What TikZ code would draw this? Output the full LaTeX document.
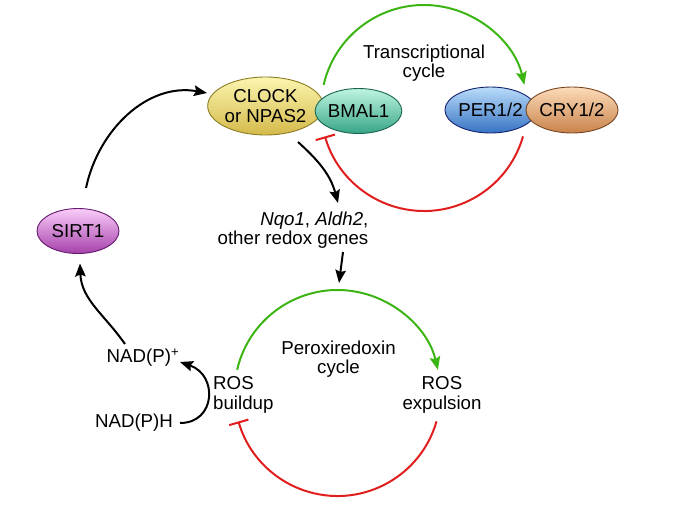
\documentclass[tikz,border=0pt]{standalone}
\usepackage{fontspec}
\setmainfont{Liberation Sans}
\usetikzlibrary{shapes.geometric,arrows.meta}
\definecolor{grn}{RGB}{60,180,20}
\definecolor{rd}{RGB}{225,30,30}
\tikzset{
  every node/.style={font=\fontsize{18.7}{19.5}\selectfont, inner sep=1pt},
  prot/.style={ellipse, draw, line width=0.9pt, inner sep=0pt, align=center},
  clockc/.style={prot, draw={rgb,255:red,140;green,125;blue,35}, top color={rgb,255:red,252;green,245;blue,175}, bottom color={rgb,255:red,212;green,186;blue,75}},
  bmalc/.style={prot, draw={rgb,255:red,25;green,100;blue,80}, top color={rgb,255:red,190;green,245;blue,225}, bottom color={rgb,255:red,55;green,165;blue,135}},
  perc/.style={prot, draw={rgb,255:red,20;green,35;blue,110}, top color={rgb,255:red,185;green,220;blue,250}, bottom color={rgb,255:red,55;green,115;blue,195}},
  cryc/.style={prot, draw={rgb,255:red,120;green,70;blue,35}, top color={rgb,255:red,252;green,220;blue,185}, bottom color={rgb,255:red,200;green,130;blue,75}},
  sirtc/.style={prot, draw={rgb,255:red,100;green,25;blue,110}, top color={rgb,255:red,250;green,205;blue,250}, bottom color={rgb,255:red,165;green,65;blue,170}},
  blk/.style={line width=2pt, -{Stealth[length=13pt,width=10.5pt,inset=2pt]}},
  act/.style={line width=2pt, grn, -{Stealth[length=13pt,width=10.5pt,inset=2pt]}},
  inh/.style={line width=2pt, rd, -{Bar[width=20pt,line width=2pt]}},
}
\begin{document}
\begin{tikzpicture}[x=1pt,y=1pt]
\useasboundingbox (0,0) rectangle (677,-504);
% protein nodes
\node[clockc, minimum width=105, minimum height=58] (clock) at (265.5,-106) {CLOCK\\or NPAS2};
\node[bmalc, minimum width=83, minimum height=45] (bmal) at (358.5,-111) {BMAL1};
\node[perc, minimum width=83, minimum height=46] (per) at (490.5,-110) {PER1/2};
\node[cryc, minimum width=82, minimum height=46] (cry) at (572,-110) {CRY1/2};
\node[sirtc, minimum width=82, minimum height=45] (sirt) at (78,-231) {SIRT1};
% text nodes
\node[align=center] (tcyc) at (424,-63) {Transcriptional\\cycle};
\node[align=right] (genes) at (293,-230) {\textit{Nqo1}, \textit{Aldh2},\\other redox genes};
\node[align=center] (perox) at (338.5,-359) {Peroxiredoxin\\cycle};
\node[align=left, anchor=west] (rosb) at (212,-395) {ROS\\buildup};
\node[align=center] (rose) at (442,-395) {ROS\\expulsion};
\node (nadp) at (143,-358) {NAD(P)\textsuperscript{+}};
\node (nadph) at (134,-423) {NAD(P)H};
% cycle centres
\coordinate (c1) at (424,-108);
\coordinate (c2) at (337.5,-393);
% transcriptional cycle
\draw[act] (c1) ++(167:103) arc[start angle=167, end angle=13, radius=103];
\draw[inh] (c1) ++(-16:103) arc[start angle=-16, end angle=-164, radius=103];
% peroxiredoxin cycle
\draw[act] (c2) ++(167:103) arc[start angle=167, end angle=13, radius=103];
\draw[inh] (c2) ++(-16:103) arc[start angle=-16, end angle=-164, radius=103];
% black connectors
\draw[blk] ([shift={(8,43)}]sirt.center) to[out=78, in=170] ([shift={(-58.5,13)}]clock.center);
\draw[blk] ([shift={(32.5,-36)}]clock.center) to[out=-42, in=105] ([shift={(45,27)}]genes.center);
\draw[blk] ([shift={(50,-22)}]genes.center) -- ([shift={(0.5,76)}]perox.center);
\draw[blk] ([shift={(-18,14)}]nadp.center) to[out=125, in=-88] ([shift={(2,-9.5)}]sirt.south);
\draw[blk] ([shift={(46,0)}]nadph.center) .. controls +(36,0) and +(38,-13) .. ([shift={(37,-4)}]nadp.center);
\end{tikzpicture}
\end{document}
